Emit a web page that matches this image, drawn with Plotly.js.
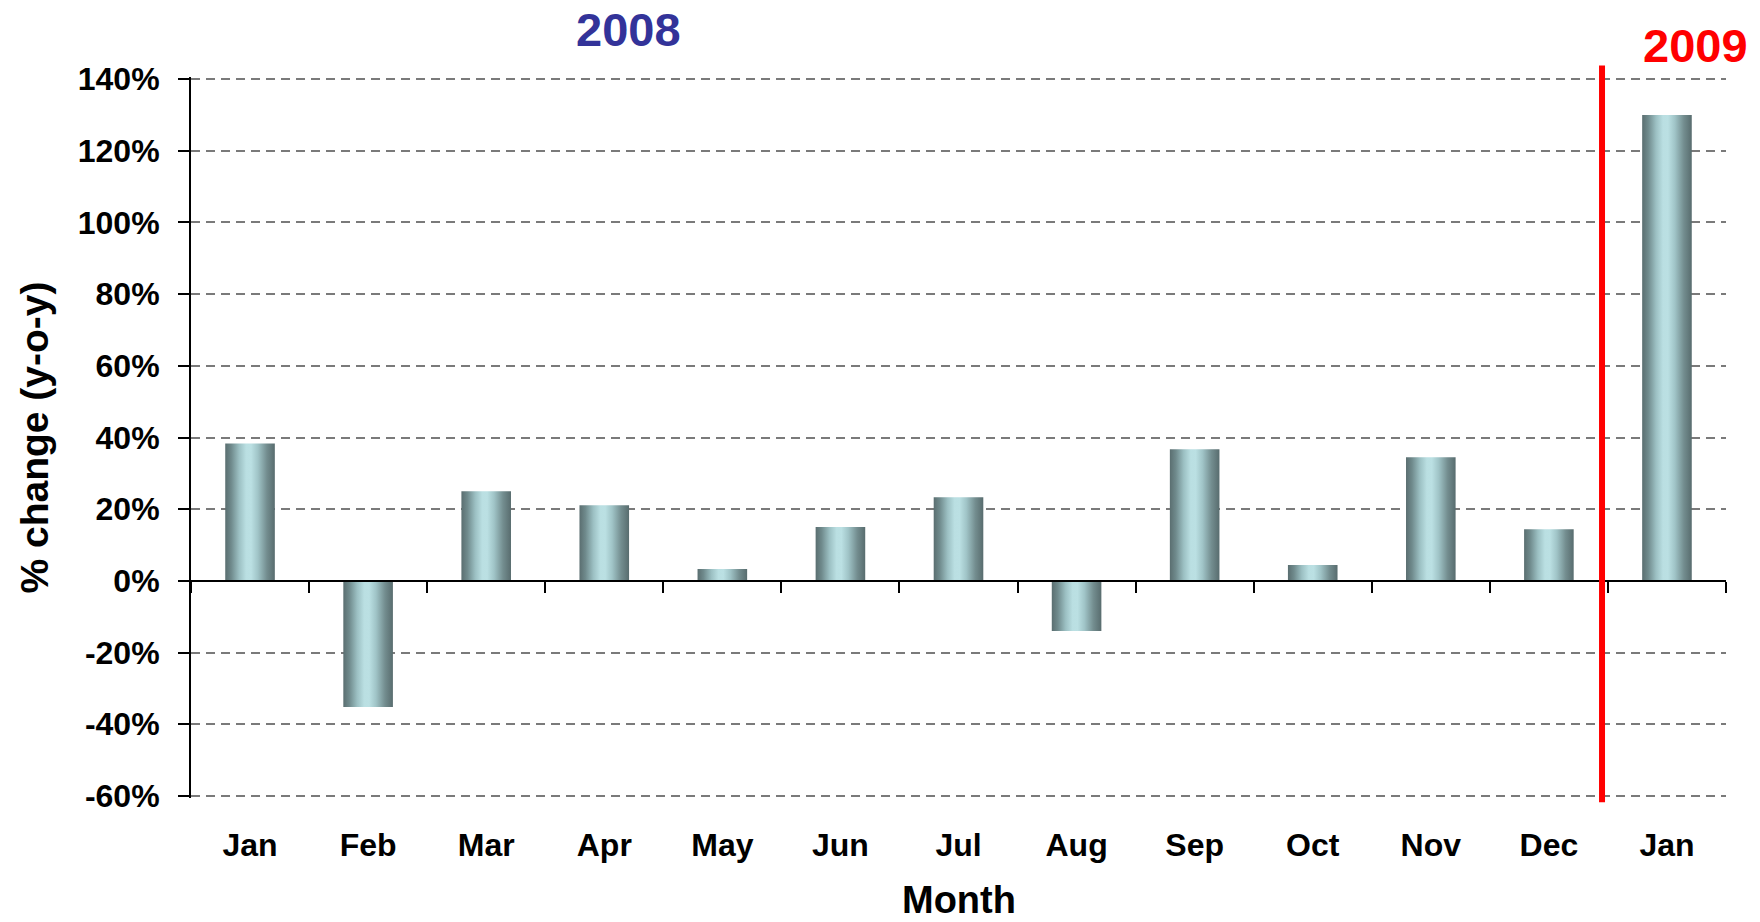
<!DOCTYPE html>
<html>
<head>
<meta charset="utf-8">
<script src="https://cdn.plot.ly/plotly-3.0.1.min.js"></script>
<style>
  html, body { margin: 0; padding: 0; background: #ffffff; }
  #chart { width: 1760px; height: 922px; }
</style>
</head>
<body>
<div id="chart"></div>
<script>
// ---- data ----
const months = ["Jan", "Feb", "Mar", "Apr", "May", "Jun", "Jul", "Aug", "Sep", "Oct", "Nov", "Dec", "Jan"];
const years = [2008, 2008, 2008, 2008, 2008, 2008, 2008, 2008, 2008, 2008, 2008, 2008, 2009];
const pctChange = [38.3, -35.2, 25.0, 21.1, 3.3, 15.0, 23.3, -14.0, 36.7, 4.4, 34.5, 14.4, 130.0];
const yTickVals = [-60, -40, -20, 0, 20, 40, 60, 80, 100, 120, 140];
const yTickText = ["-60%", "-40%", "-20%", "0%", "20%", "40%", "60%", "80%", "100%", "120%", "140%"];
const yearLabels = ["2008", "2009"];
const xTitle = "Month";
const yTitle = "% change (y-o-y)";

// ---- derived ----
const idx = months.map((m, i) => i);
const boundaries = idx.map(i => i - 0.5).concat([idx.length - 0.5]);
const FONT = "Liberation Sans, Arial, Helvetica, sans-serif";
const PAD = 0.6; // tiny range padding so the end gridlines are kept
const yMin = yTickVals[0] - PAD;
const yMax = yTickVals[yTickVals.length - 1] + PAD;

const trace = {
  type: "bar",
  x: idx,
  y: pctChange,
  customdata: years,
  marker: { color: "#9fc4c7", line: { width: 0 } },
  hovertemplate: "%{y}%<extra></extra>"
};

const layout = {
  width: 1760,
  height: 922,
  margin: { l: 191, r: 34, t: 77, b: 124 },
  paper_bgcolor: "#ffffff",
  plot_bgcolor: "#ffffff",
  showlegend: false,
  bargap: 0.58,
  font: { family: FONT, color: "#000000" },
  xaxis: {
    range: [-0.5, idx.length - 0.5],
    tickmode: "array",
    tickvals: idx,
    ticktext: months,
    ticks: "",
    showline: false,
    showgrid: false,
    zeroline: false,
    tickfont: { family: FONT, size: 32, weight: "bold", color: "#000000" },
    ticklabelstandoff: 25
  },
  xaxis2: {
    overlaying: "x",
    anchor: "free",
    position: (0 - yMin) / (yMax - yMin),
    side: "bottom",
    range: [-0.5, idx.length - 0.5],
    tickmode: "array",
    tickvals: boundaries,
    showticklabels: false,
    ticks: "outside",
    ticklen: 11,
    tickwidth: 2,
    tickcolor: "#000000",
    showline: true,
    linecolor: "#000000",
    linewidth: 2,
    showgrid: false,
    zeroline: false
  },
  yaxis: {
    range: [yMin, yMax],
    tickmode: "array",
    tickvals: yTickVals,
    ticktext: yTickText,
    ticks: "outside",
    ticklen: 11,
    tickwidth: 2,
    tickcolor: "#000000",
    showline: true,
    linecolor: "#000000",
    linewidth: 2,
    showgrid: true,
    gridcolor: "#7a7a7a",
    gridwidth: 2,
    griddash: "9px,6px",
    zeroline: true,
    zerolinecolor: "#000000",
    zerolinewidth: 2,
    tickfont: { family: FONT, size: 32, weight: "bold", color: "#000000" },
    ticklabelstandoff: 12,
    title: {
      text: yTitle,
      font: { family: FONT, size: 39, weight: "bold", color: "#000000" },
      standoff: 17
    }
  },
  shapes: [{
    type: "line",
    xref: "x",
    yref: "paper",
    x0: 11.45, x1: 11.45,
    y0: -0.006, y1: 1.016,
    line: { color: "#ff0000", width: 6 },
    layer: "above"
  }],
  annotations: [
    {
      text: yearLabels[0],
      xref: "paper", yref: "paper",
      x: 0.2853, y: 1.0653,
      xanchor: "center", yanchor: "middle",
      showarrow: false,
      font: { family: FONT, size: 47, weight: "bold", color: "#333399" }
    },
    {
      text: yearLabels[1],
      xref: "paper", yref: "paper",
      x: 0.9803, y: 1.0437,
      xanchor: "center", yanchor: "middle",
      showarrow: false,
      font: { family: FONT, size: 47, weight: "bold", color: "#ff0000" }
    },
    {
      text: xTitle,
      xref: "paper", yref: "paper",
      x: 0.5, y: -0.1415,
      xanchor: "center", yanchor: "middle",
      showarrow: false,
      font: { family: FONT, size: 38, weight: "bold", color: "#000000" }
    }
  ]
};

// invisible helper trace so the zero-crossing axis (xaxis2) is drawn
const helper = {
  type: "scatter",
  x: idx,
  y: pctChange,
  xaxis: "x2",
  mode: "none",
  hoverinfo: "skip",
  showlegend: false
};

Plotly.newPlot("chart", [trace, helper], layout, { displayModeBar: false, staticPlot: true }).then(gd => {
  // cylinder-like horizontal gradient on bars
  const svg = gd.querySelector("svg.main-svg");
  const ns = "http://www.w3.org/2000/svg";
  let defs = svg.querySelector("defs");
  if (!defs) { defs = document.createElementNS(ns, "defs"); svg.insertBefore(defs, svg.firstChild); }
  const grad = document.createElementNS(ns, "linearGradient");
  grad.setAttribute("id", "barGrad");
  grad.setAttribute("x1", "0"); grad.setAttribute("y1", "0");
  grad.setAttribute("x2", "1"); grad.setAttribute("y2", "0");
  const stops = [
    [0.00, "#5a6e70"],
    [0.12, "#6f8a8c"],
    [0.28, "#9cc0c3"],
    [0.42, "#badfe2"],
    [0.52, "#bbe0e3"],
    [0.66, "#a0c4c7"],
    [0.84, "#738d8f"],
    [1.00, "#586c6e"]
  ];
  stops.forEach(([o, c]) => {
    const s = document.createElementNS(ns, "stop");
    s.setAttribute("offset", o);
    s.setAttribute("stop-color", c);
    grad.appendChild(s);
  });
  defs.appendChild(grad);
  gd.querySelectorAll(".trace.bars .point path").forEach(p => {
    p.style.fill = "url(#barGrad)";
  });
});
</script>
</body>
</html>
